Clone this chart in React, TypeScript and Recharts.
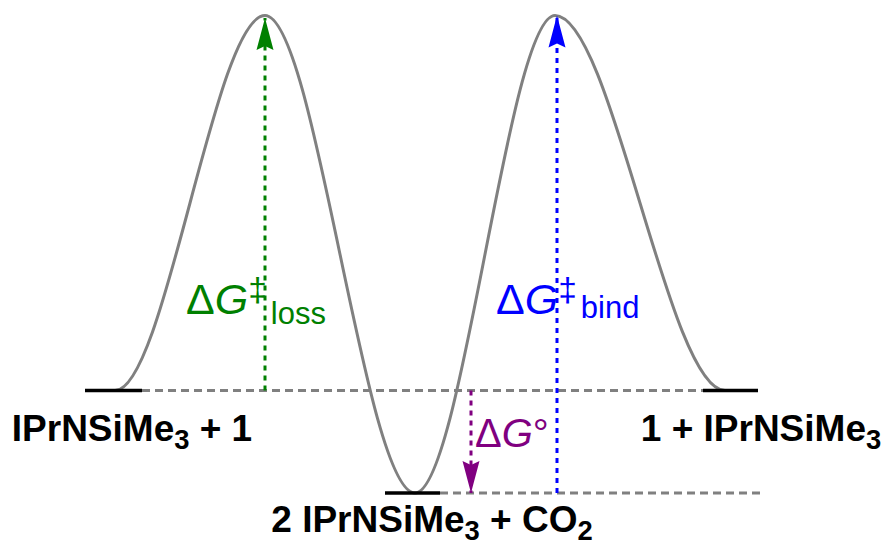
import { LineChart, Line, XAxis, YAxis, ReferenceLine, ReferenceDot } from 'recharts'

// free-energy profile along the reaction coordinate (kcal/mol-ish units)
const reactionCoord = [85, 115, 265, 415, 555, 725, 758]
const freeEnergy = [0, 0, 30, -8.2, 30, 0, 0]

// horizontal state levels
const levelStart = [85, 385, 703]
const levelEnd = [142, 440, 758]
const levelEnergy = [0, -8.2, 0]

// dashed guides between levels
const guideStart = [142, 440]
const guideEnd = [703, 765]
const guideEnergy = [0, -8.2]

// energy differences drawn as dotted arrows
const arrowX = [265, 557, 471]
const arrowFrom = [0, -8.2, 0]
const arrowTo = [29.8, 30, -8.2]
const arrowColor = ['#008000', '#0000ff', '#800080']

type Seg = { t: string; shift?: number; scale?: number; italic?: boolean; dx?: number }

const stateNames: Seg[][] = [
  [{ t: 'IPrNSiMe' }, { t: '3', shift: 8, scale: 0.74 }, { t: ' + 1' }],
  [{ t: '1 + IPrNSiMe' }, { t: '3', shift: 8, scale: 0.74 }],
  [{ t: '2 IPrNSiMe' }, { t: '3', shift: 8, scale: 0.74 }, { t: ' + CO' }, { t: '2', shift: 8, scale: 0.74 }],
]
const stateNameX = [132, 761, 432]
const stateNameE = [-4.0, -4.0, -11.35]

const deltaNames: Seg[][] = [
  [{ t: 'Δ' }, { t: 'G', italic: true }, { t: '‡', shift: -13, scale: 0.78 }, { t: 'loss', shift: 10, scale: 0.72, dx: 4 }],
  [{ t: 'Δ' }, { t: 'G', italic: true }, { t: '‡', shift: -13, scale: 0.78 }, { t: 'bind', shift: 4, scale: 0.72, dx: 4 }],
  [{ t: 'Δ' }, { t: 'G', italic: true }, { t: '°' }],
]
const deltaX = [186, 496, 475]
const deltaE = [6.16, 6.16, -4.55]
const deltaSize = [43, 43, 40]

const profile = reactionCoord.map((x, i) => ({ x, E: freeEnergy[i] }))

const FONT = '"Liberation Sans", Arial, sans-serif'
const W = 886
const H = 548

function RichText({ cx, cy, segs, size, color, bold, anchor }: any) {
  let cur = 0
  return (
    <text x={cx} y={cy} fill={color} fontFamily={FONT} fontSize={size} fontWeight={bold ? 'bold' : 'normal'} textAnchor={anchor}>
      {segs.map((s: Seg, i: number) => {
        const target = s.shift ?? 0
        const dy = target - cur
        cur = target
        return (
          <tspan key={i} dy={dy} dx={s.dx} fontSize={size * (s.scale ?? 1)} fontStyle={s.italic ? 'italic' : 'normal'}>
            {s.t}
          </tspan>
        )
      })}
    </text>
  )
}

function ArrowHead({ cx, cy, color, up }: any) {
  const d = up ? 1 : -1
  const len = 32
  const half = 8.5
  const notch = 4
  const pts = [
    [cx, cy],
    [cx + half, cy + d * len],
    [cx, cy + d * (len - notch)],
    [cx - half, cy + d * len],
  ]
  return <polygon points={pts.map((p) => p.join(',')).join(' ')} fill={color} />
}

export default function App() {
  return (
    <div style={{ position: 'absolute', left: 0, top: 0, background: '#fff' }}>
      <LineChart width={W} height={H} margin={{ top: 0, right: 0, bottom: 0, left: 0 }}>
        <XAxis type="number" dataKey="x" domain={[0, W]} hide allowDataOverflow />
        <YAxis type="number" dataKey="E" domain={[-12.6, 31.24]} hide allowDataOverflow />

        {guideStart.map((x0, i) => (
          <ReferenceLine
            key={`g${i}`}
            segment={[{ x: x0, y: guideEnergy[i] }, { x: guideEnd[i], y: guideEnergy[i] }]}
            stroke="#808080"
            strokeWidth={3}
            strokeDasharray="8 5"
          />
        ))}

        <Line
          data={profile}
          dataKey="E"
          type="monotoneX"
          stroke="#808080"
          strokeWidth={3}
          dot={false}
          activeDot={false}
          isAnimationActive={false}
        />

        {levelStart.map((x0, i) => (
          <ReferenceLine
            key={`l${i}`}
            segment={[{ x: x0, y: levelEnergy[i] }, { x: levelEnd[i], y: levelEnergy[i] }]}
            stroke="#000"
            strokeWidth={3.5}
          />
        ))}

        {arrowX.map((x, i) => (
          <ReferenceLine
            key={`a${i}`}
            segment={[{ x, y: arrowFrom[i] }, { x, y: arrowTo[i] }]}
            stroke={arrowColor[i]}
            strokeWidth={3}
            strokeDasharray="5 5"
          />
        ))}
        {arrowX.map((x, i) => (
          <ReferenceDot
            key={`h${i}`}
            x={x}
            y={arrowTo[i]}
            r={0}
            shape={(p: any) => <ArrowHead cx={p.cx} cy={p.cy} color={arrowColor[i]} up={arrowTo[i] > arrowFrom[i]} />}
          />
        ))}

        {deltaNames.map((segs, i) => (
          <ReferenceDot
            key={`d${i}`}
            x={deltaX[i]}
            y={deltaE[i]}
            r={0}
            shape={(p: any) => <RichText cx={p.cx} cy={p.cy} segs={segs} size={deltaSize[i]} color={arrowColor[i]} anchor="start" />}
          />
        ))}

        {stateNames.map((segs, i) => (
          <ReferenceDot
            key={`s${i}`}
            x={stateNameX[i]}
            y={stateNameE[i]}
            r={0}
            shape={(p: any) => <RichText cx={p.cx} cy={p.cy} segs={segs} size={37} color="#000" bold anchor="middle" />}
          />
        ))}
      </LineChart>
    </div>
  )
}
